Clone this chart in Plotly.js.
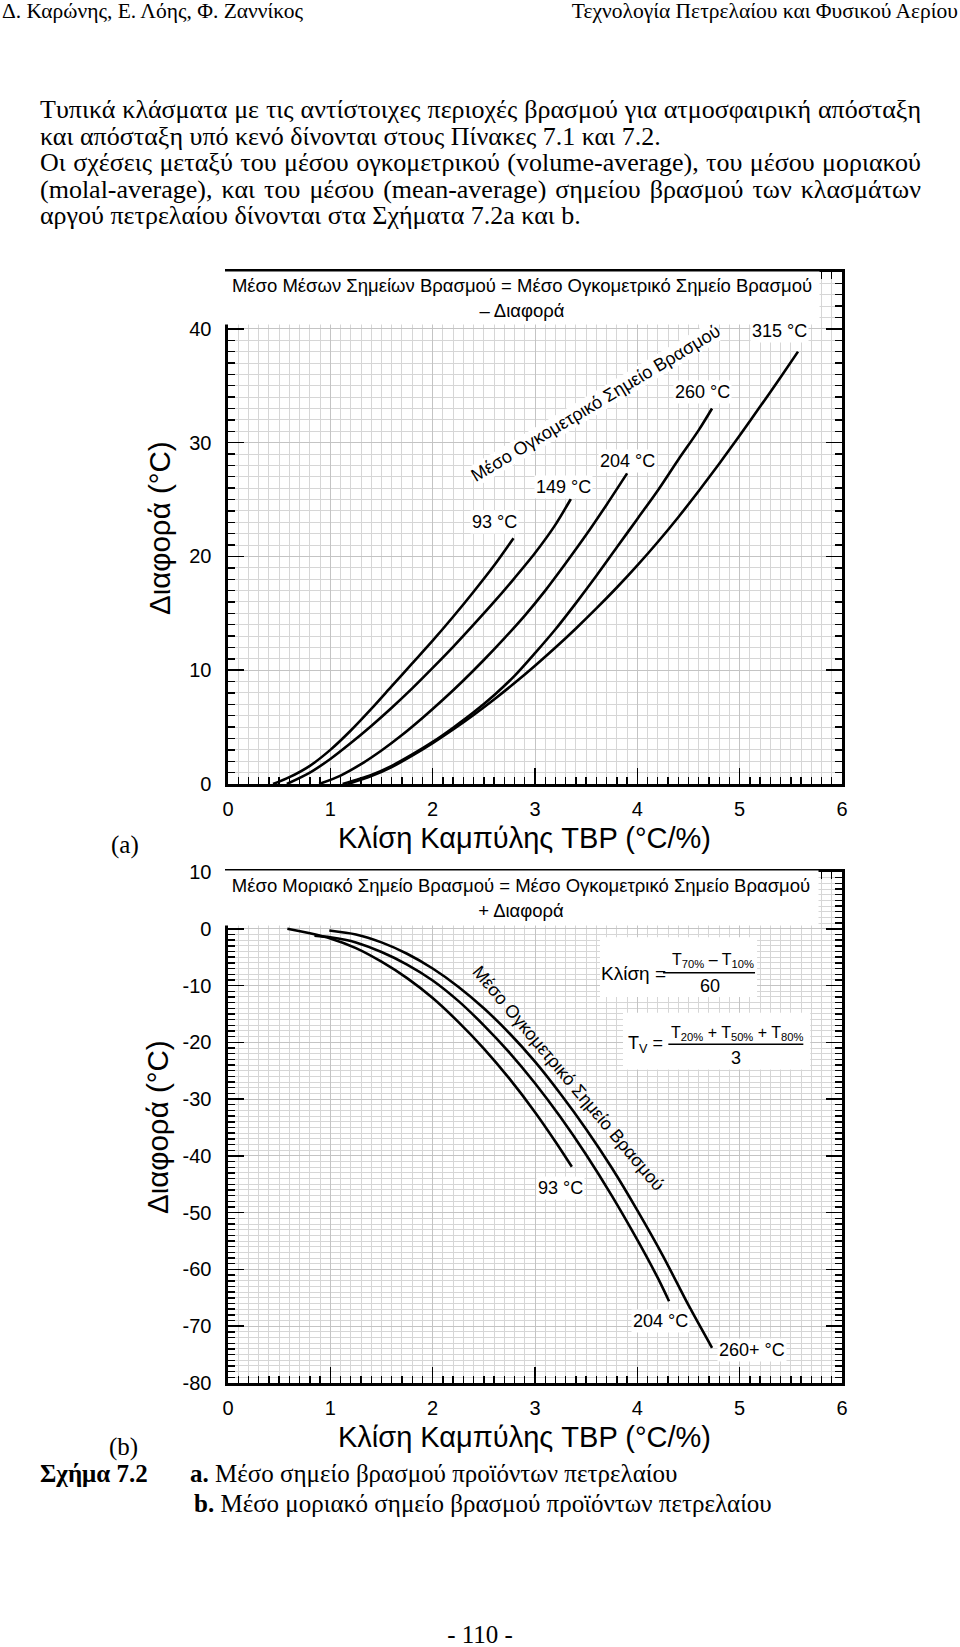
<!DOCTYPE html>
<html>
<head>
<meta charset="utf-8">
<script src="https://cdn.plot.ly/plotly-3.0.1.min.js"></script>
<style>
  html, body { margin:0; padding:0; background:#fff; }
  #page { position:relative; width:960px; height:1647px; overflow:hidden; background:#fff; }
  #plot { position:absolute; left:0; top:0; width:960px; height:1647px; }
  .t { position:absolute; font-family:"Liberation Serif","Times New Roman",serif; font-size:26px; color:#000; white-space:nowrap; line-height:26.5px; }
  .h { font-size:21.5px; line-height:24px; }
  .c { font-size:25px; }
  .j { text-align:justify; text-align-last:justify; white-space:normal; }
</style>
</head>
<body>
<div id="page">
  <div id="plot"></div>
  <div class="t h" style="left:2px; top:-1px;">Δ. Καρώνης, Ε. Λόης, Φ. Ζαννίκος</div>
  <div class="t h" style="right:2px; top:-1px;">Τεχνολογία Πετρελαίου και Φυσικού Αερίου</div>

  <div class="t j" style="left:40px; width:881px; top:97px;">Τυπικά κλάσματα με τις αντίστοιχες περιοχές βρασμού για ατμοσφαιρική απόσταξη</div>
  <div class="t" style="left:40px; top:124px;">και απόσταξη υπό κενό δίνονται στους Πίνακες 7.1 και 7.2.</div>
  <div class="t j" style="left:40px; width:881px; top:150px;">Οι σχέσεις μεταξύ του μέσου ογκομετρικού (volume-average), του μέσου μοριακού</div>
  <div class="t j" style="left:40px; width:881px; top:177px;">(molal-average), και του μέσου (mean-average) σημείου βρασμού των κλασμάτων</div>
  <div class="t" style="left:40px; top:203px;">αργού πετρελαίου δίνονται στα Σχήματα 7.2a και b.</div>

  <div class="t c" style="left:111px; top:832px;">(a)</div>
  <div class="t c" style="left:109px; top:1434px;">(b)</div>
  <div class="t c" style="left:40px; top:1461px;"><b>Σχήμα 7.2</b></div>
  <div class="t c" style="left:190px; top:1461px;"><b>a.</b> Μέσο σημείο βρασμού προϊόντων πετρελαίου</div>
  <div class="t c" style="left:194px; top:1491px;"><b>b.</b> Μέσο μοριακό σημείο βρασμού προϊόντων πετρελαίου</div>
  <div class="t c" style="left:0; width:960px; text-align:center; top:1624px; line-height:22px;">- 110 -</div>
</div>
<script>
// ---------------- DATA ----------------
// (a) Mean-average boiling point: Difference (°C) vs TBP slope (°C/%)
const x93  = [0.44,0.6,0.8,1.0,1.2,1.4,1.6,1.8,2.0,2.2,2.4,2.6,2.79];
const y93  = [0,0.6,1.6,3.0,4.7,6.6,8.6,10.6,12.6,14.7,16.9,19.2,21.6];
const x149 = [0.575,0.8,1.0,1.2,1.4,1.6,1.8,2.0,2.2,2.4,2.6,2.8,3.0,3.2,3.35];
const y149 = [0,1.0,2.2,3.6,5.1,6.7,8.4,10.2,12.05,14.0,16.0,18.1,20.3,22.8,25.05];
const x204 = [0.89,1.1,1.3,1.5,1.7,1.9,2.1,2.3,2.5,2.7,2.9,3.1,3.3,3.5,3.7,3.9];
const y204 = [0,0.74,1.74,2.94,4.3,5.8,7.4,9.1,10.9,12.8,14.8,17.0,19.4,21.9,24.55,27.3];
const x260 = [1.12,1.4,1.6,1.8,2.0,2.2,2.4,2.6,2.8,3.0,3.2,3.4,3.6,3.8,4.0,4.2,4.4,4.6,4.73];
const y260 = [0,0.8,1.6,2.6,3.7,4.95,6.3,7.8,9.5,11.5,13.6,15.9,18.3,20.8,23.3,25.8,28.5,31.1,33.0];
const x315 = [1.17,1.4,1.6,1.8,2.0,2.2,2.4,2.6,2.8,3.0,3.2,3.4,3.6,3.8,4.0,4.2,4.4,4.6,4.8,5.0,5.2,5.4,5.57];
const y315 = [0,0.69,1.49,2.49,3.59,4.79,6.07,7.43,8.87,10.39,11.99,13.67,15.43,17.27,19.21,21.27,23.45,25.75,28.15,30.63,33.17,35.75,38.0];
const labelsA = ["93 °C","149 °C","204 °C","260 °C","315 °C"];

// (b) Molal-average boiling point: Difference (°C) vs TBP slope (°C/%)
const xb93  = [0.58,0.8,1.0,1.25,1.5,1.75,2.0,2.25,2.5,2.75,3.0,3.2,3.36];
const yb93  = [0,-0.8,-1.7,-3.4,-5.8,-8.7,-12.2,-16.4,-21.1,-26.4,-32.3,-37.5,-41.9];
const xb204 = [0.845,1.0,1.25,1.5,1.75,2.0,2.25,2.5,2.75,3.0,3.25,3.5,3.75,4.0,4.2,4.31];
const yb204 = [-1.2,-1.5,-2.4,-4.1,-6.3,-9.1,-12.7,-17.0,-21.8,-27.2,-33.2,-39.8,-47.0,-54.8,-61.5,-65.6];
const xb260 = [0.99,1.25,1.5,1.75,2.0,2.25,2.5,2.75,3.0,3.25,3.5,3.75,4.0,4.25,4.5,4.73];
const yb260 = [-0.3,-1.0,-2.4,-4.4,-7.0,-10.2,-14.0,-18.4,-23.4,-29.1,-35.3,-42.1,-49.6,-57.6,-66.3,-73.8];
const labelsB = ["93 °C","204 °C","260+ °C"];

const xTickVals = [0,1,2,3,4,5,6];
const yTickValsA = [0,10,20,30,40];
const yTickValsB = [-80,-70,-60,-50,-40,-30,-20,-10,0,10];

// ---------------- LAYOUT HELPERS ----------------
const W = 960, H = 1647;
const px = v => v / W;
const py = v => 1 - v / H;
const SANS = "Liberation Sans, Arial, sans-serif";

function line(x, y, xa, ya) {
  return {x: x, y: y, xaxis: xa, yaxis: ya, mode: 'lines', type: 'scatter',
          line: {color: '#000', width: 2.6, shape: 'spline', smoothing: 0.8},
          hoverinfo: 'skip'};
}

const traces = [
  line(x93, y93, 'x', 'y'), line(x149, y149, 'x', 'y'), line(x204, y204, 'x', 'y'),
  line(x260, y260, 'x', 'y'), line(x315, y315, 'x', 'y'),
  line(xb93, yb93, 'x2', 'y2'), line(xb204, yb204, 'x2', 'y2'), line(xb260, yb260, 'x2', 'y2')
];

function xAxis(anchor) {
  return {
    domain: [px(228), px(842)], anchor: anchor, range: [0, 6],
    tickmode: 'array', tickvals: xTickVals, ticktext: xTickVals.map(String),
    ticks: 'inside', ticklen: 16, tickwidth: 1.6, tickcolor: '#000',
    showline: true, linewidth: 2.6, linecolor: '#000', mirror: 'ticks',
    showgrid: true, gridcolor: '#c4c4c4', gridwidth: 1, zeroline: false,
    minor: {dtick: 0.1, tick0: 0, ticks: 'inside', ticklen: 7, tickwidth: 1.4, tickcolor: '#000',
            showgrid: true, gridcolor: '#d6d6d6', gridwidth: 1},
    tickfont: {family: SANS, size: 20, color: '#000'},
    ticklabelstandoff: 5, fixedrange: true
  };
}
function yAxis(anchor, top, bottom, range, vals) {
  return {
    domain: [py(bottom), py(top)], anchor: anchor, range: range,
    tickmode: 'array', tickvals: vals, ticktext: vals.map(String),
    ticks: 'inside', ticklen: 16, tickwidth: 1.6, tickcolor: '#000',
    showline: true, linewidth: 2.6, linecolor: '#000', mirror: 'ticks',
    showgrid: true, gridcolor: '#c4c4c4', gridwidth: 1, zeroline: false,
    minor: {dtick: 1, ticks: 'inside', ticklen: 7, tickwidth: 1.4, tickcolor: '#000',
            showgrid: true, gridcolor: '#d6d6d6', gridwidth: 1},
    tickfont: {family: SANS, size: 20, color: '#000'},
    ticklabelstandoff: 10, fixedrange: true
  };
}

const F = (s) => ({family: SANS, size: s, color: '#000'});
function ann(o) { return Object.assign({xanchor: 'center', yanchor: 'middle', showarrow: false}, o); }

const annotations = [
  // ---- chart (a) ----
  ann({xref: 'paper', yref: 'paper', x: px(522), y: py(297.5),
   width: 592, height: 50, bgcolor: '#fff', font: F(18.5),
   text: 'Μέσο Μέσων Σημείων Βρασμού = Μέσο Ογκομετρικό Σημείο Βρασμού<br>– Διαφορά'}),
  ann({xref: 'x', yref: 'y', x: 5.385, y: 39.8, text: labelsA[4], font: F(18), bgcolor: '#fff'}),
  ann({xref: 'x', yref: 'y', x: 4.638, y: 34.47, text: labelsA[3], font: F(18), bgcolor: '#fff'}),
  ann({xref: 'x', yref: 'y', x: 3.899, y: 28.39, text: labelsA[2], font: F(18), bgcolor: '#fff'}),
  ann({xref: 'x', yref: 'y', x: 3.283, y: 26.1, text: labelsA[1], font: F(18), bgcolor: '#fff'}),
  ann({xref: 'x', yref: 'y', x: 2.606, y: 23.03, text: labelsA[0], font: F(18), bgcolor: '#fff'}),
  ann({xref: 'x', yref: 'y', x: 3.596, y: 33.49, text: 'Μέσο Ογκομετρικό Σημείο Βρασμού', textangle: -31,
   font: F(18), bgcolor: '#fff', borderpad: 0}),
  ann({xref: 'paper', yref: 'paper', x: px(524), y: py(838), text: 'Κλίση Καμπύλης TBP (°C/%)', font: F(29)}),
  ann({xref: 'paper', yref: 'paper', x: px(159), y: py(528), text: 'Διαφορά (°C)', textangle: -90, font: F(29.5)}),

  // ---- chart (b) ----
  ann({xref: 'paper', yref: 'paper', x: px(521), y: py(898),
   width: 592, height: 52, bgcolor: '#fff', font: F(18.5),
   text: 'Μέσο Μοριακό Σημείο Βρασμού = Μέσο Ογκομετρικό Σημείο Βρασμού<br>+ Διαφορά'}),
  ann({xref: 'x2', yref: 'y2', x: 3.323, y: -26.3, text: 'Μέσο Ογκομετρικό Σημείο Βρασμού', textangle: 50, font: F(18)}),
  ann({xref: 'x2', yref: 'y2', x: 3.254, y: -45.6, text: labelsB[0], font: F(18), bgcolor: '#fff'}),
  ann({xref: 'x2', yref: 'y2', x: 4.227, y: -69.1, text: labelsB[1], font: F(18), bgcolor: '#fff'}),
  ann({xref: 'x2', yref: 'y2', x: 5.121, y: -74.1, text: labelsB[2], font: F(18), bgcolor: '#fff'}),
  ann({xref: 'x2', yref: 'y2', x: 3.958, y: -7.80, text: 'Κλίση =', font: F(19)}),
  ann({xref: 'x2', yref: 'y2', x: 4.735, y: -5.6, text: 'T<sub>70%</sub> – T<sub>10%</sub>', font: F(16)}),
  ann({xref: 'x2', yref: 'y2', x: 4.71, y: -10.0, text: '60', font: F(18)}),
  ann({xref: 'x2', yref: 'y2', x: 4.083, y: -20.46, text: 'T<sub>V</sub> =', font: F(18)}),
  ann({xref: 'x2', yref: 'y2', x: 4.971, y: -18.5, text: 'T<sub>20%</sub> + T<sub>50%</sub> + T<sub>80%</sub>', font: F(16)}),
  ann({xref: 'x2', yref: 'y2', x: 4.961, y: -22.8, text: '3', font: F(18)}),
  ann({xref: 'paper', yref: 'paper', x: px(524), y: py(1437), text: 'Κλίση Καμπύλης TBP (°C/%)', font: F(29)}),
  ann({xref: 'paper', yref: 'paper', x: px(157), y: py(1127), text: 'Διαφορά (°C)', textangle: -90, font: F(29.5)})
];

const shapes = [
  // white backgrounds of the formula boxes (between grid and curves)
  {type: 'rect', xref: 'x2', yref: 'y2', x0: 3.635, x1: 5.17, y0: -1.5, y1: -12.0, layer: 'between',
   fillcolor: '#fff', line: {width: 0}},
  {type: 'rect', xref: 'x2', yref: 'y2', x0: 3.86, x1: 5.69, y0: -14.8, y1: -24.8, layer: 'between',
   fillcolor: '#fff', line: {width: 0}},
  {type: 'line', xref: 'x2', yref: 'y2', x0: 4.251, x1: 5.15, y0: -7.74, y1: -7.74, line: {color: '#000', width: 1.6}},
  {type: 'line', xref: 'x2', yref: 'y2', x0: 4.303, x1: 5.622, y0: -20.34, y1: -20.34, line: {color: '#000', width: 1.6}}
];

const layout = {
  width: W, height: H, margin: {l: 0, r: 0, t: 0, b: 0},
  paper_bgcolor: 'rgba(0,0,0,0)', plot_bgcolor: '#fff', showlegend: false,
  font: {family: SANS, color: '#000'},
  xaxis: xAxis('y'),
  yaxis: yAxis('x', 272, 784, [0, 45], yTickValsA),
  xaxis2: xAxis('y2'),
  yaxis2: yAxis('x2', 872, 1383, [-80, 10], yTickValsB),
  annotations: annotations,
  shapes: shapes
};

Plotly.newPlot('plot', traces, layout, {staticPlot: true, displayModeBar: false});
</script>
</body>
</html>
